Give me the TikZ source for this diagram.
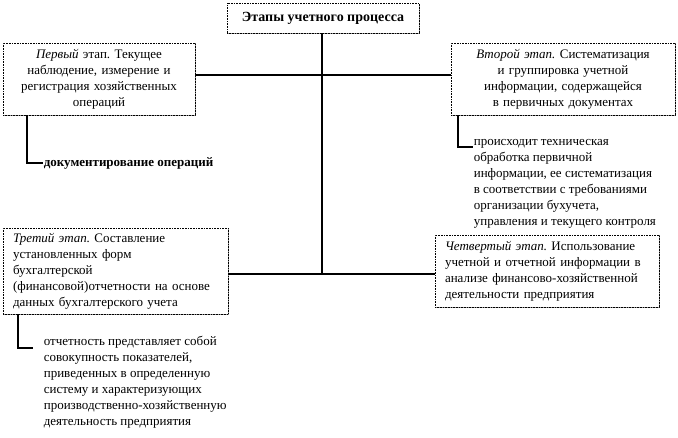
\documentclass[tikz,border=0pt]{standalone}
\usepackage{fontspec}
\setmainfont{Liberation Serif}
\usetikzlibrary{shadows}
\frenchspacing
\begin{document}
\begin{tikzpicture}[x=1pt, y=-1pt, line width=1.6pt,
	stage/.style = {draw, line width=0.6pt, densely dotted, fill=white, inner xsep=10pt, inner ysep=2pt,
		drop shadow={shadow xshift=1.2pt, shadow yshift=-1.2pt, fill=gray!80, opacity=1},
		font=\fontsize{13}{16}\selectfont},
	note/.style = {inner sep=0pt, align=left, font=\fontsize{13}{16}\selectfont}]
		\useasboundingbox (0,0) rectangle (678,437);
		
		\node[stage, minimum width=192pt, minimum height=30pt, font=\fontsize{14}{16}\selectfont\bfseries] (top) at (323,18) {Этапы учетного процесса};
		
		\node[stage, minimum width=192pt, minimum height=72pt, text width=180pt, inner xsep=6pt, align=center] (s1) at (99,79) {\textit{Первый} этап. Текущее\\ наблюдение, измерение и\\ регистрация хозяйственных\\ операций};
		\node[stage, minimum width=224pt, minimum height=72pt, text width=204pt, align=center] (s2) at (563,79) {\textit{Второй этап.} Систематизация\\ и группировка учетной\\ информации, содержащейся\\ в первичных документах};
		\node[stage, minimum width=225pt, minimum height=86pt, text width=205pt, align=left] (s3) at (115.5,271) {\textit{Третий этап.} Составление\\ установленных форм\\ бухгалтерской\\ (финансовой)отчетности на основе\\ данных бухгалтерского учета};
		\node[stage, minimum width=224pt, minimum height=72pt, text width=204pt, align=left] (s4) at (547,271) {\textit{Четвертый этап.} Использование\\ учетной и отчетной информации в\\ анализе финансово-хозяйственной\\ деятельности предприятия};
		
		\node[note, anchor=west, font=\fontsize{13}{16}\selectfont\bfseries] (n1) at (43,163) {документирование операций};
		\node[note, anchor=north west] (n2) at (473,139) {происходит техническая\\ обработка первичной\\ информации, ее систематизация\\ в соответствии с требованиями\\ организации бухучета,\\ управления и текущего контроля};
		\node[note, anchor=north west] (n3) at (43,335) {отчетность представляет собой\\ совокупность показателей,\\ приведенных в определенную\\ систему и характеризующих\\ производственно-хозяйственную\\ деятельность предприятия};
		
		\coordinate (j1) at (322,75);
		\coordinate (j2) at (322,274);
		
		\draw (top.south -| j1) -- (j2);
		\draw (s1.east |- j1) -- (s2.west |- j1);
		\draw (s3.east |- j2) -- (s4.west |- j2);
		
		\draw ([xshift=24pt]s1.south west) |- (n1.west);
		\draw ([xshift=7pt]s2.south west) |- ([yshift=-8pt]n2.north west);
		\draw ([xshift=15pt]s3.south west) |- ([xshift=-10pt, yshift=-13pt]n3.north west);
		
	\end{tikzpicture}
\end{document}
